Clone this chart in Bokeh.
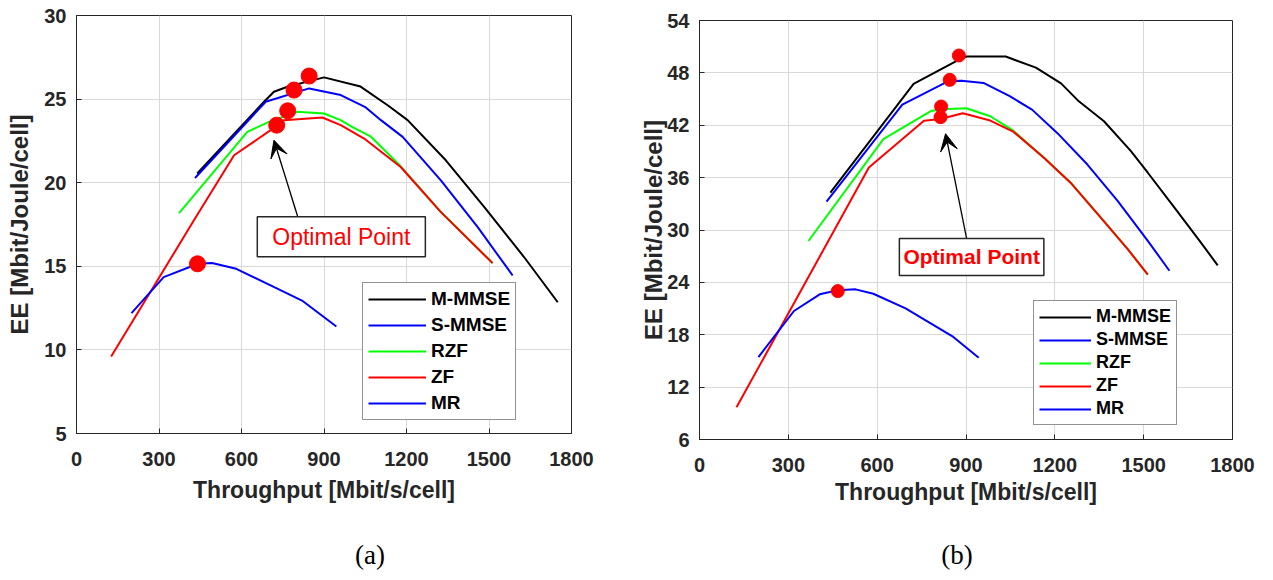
from bokeh.plotting import figure
from bokeh.layouts import row, column
from bokeh.models import (Range1d, FixedTicker, Legend, LegendItem, Label, Arrow,
                          VeeHead, Div)
from bokeh.embed import file_html
from bokeh.resources import INLINE

# ---------------- data ----------------
series_names = ["M-MMSE", "S-MMSE", "RZF", "ZF", "MR"]
series_colors = ["#000000", "#0000FF", "#00FF00", "#FF0000", "#0000FF"]
x_ticks = [0, 300, 600, 900, 1200, 1500, 1800]

# panel (a)
a_y_ticks = [5, 10, 15, 20, 25, 30]
a_mmmse_x = [439, 682, 718, 767, 900, 1033, 1134, 1204, 1343, 1483, 1628, 1750]
a_mmmse_y = [20.55, 24.84, 25.44, 25.74, 26.3, 25.75, 24.6, 23.74, 21.34, 18.54, 15.54, 12.85]
a_smmse_x = [431, 688, 846, 961, 1052, 1107, 1186, 1325, 1459, 1586]
a_smmse_y = [20.28, 24.84, 25.64, 25.24, 24.5, 23.74, 22.74, 20.14, 17.34, 14.45]
a_rzf_x = [373, 621, 700, 803, 900, 961, 1000, 1071, 1179, 1325, 1513]
a_rzf_y = [18.18, 23.04, 23.64, 24.24, 24.14, 23.74, 23.35, 22.75, 20.98, 18.26, 15.2]
a_zf_x = [126, 427, 573, 706, 755, 894, 961, 1046, 1179, 1325, 1513]
a_zf_y = [9.6, 17.75, 21.64, 23.14, 23.74, 23.9, 23.44, 22.64, 20.94, 18.24, 15.19]
a_mr_x = [200, 317, 442, 493, 581, 719, 820, 945]
a_mr_y = [12.2, 14.35, 15.15, 15.2, 14.85, 13.75, 12.95, 11.4]
a_opt_x = [846, 791, 768, 728, 440]
a_opt_y = [26.38, 25.54, 24.3, 23.44, 15.15]

# panel (b)
b_y_ticks = [6, 12, 18, 24, 30, 36, 42, 48, 54]
b_mmmse_x = [442, 723, 875, 901, 1034, 1136, 1221, 1281, 1366, 1457, 1514, 1604, 1689, 1750]
b_mmmse_y = [34.28, 46.74, 49.5, 49.87, 49.87, 48.6, 46.8, 44.74, 42.46, 39.03, 36.56, 32.56, 28.76, 25.95]
b_smmse_x = [429, 685, 839, 885, 959, 1046, 1123, 1208, 1310, 1412, 1514, 1587]
b_smmse_y = [33.24, 44.36, 47.03, 47.1, 46.85, 45.36, 43.79, 41.12, 37.5, 33.33, 28.76, 25.33]
b_rzf_x = [368, 621, 784, 839, 901, 982, 1055, 1163, 1253, 1355, 1446, 1514]
b_rzf_y = [28.74, 40.4, 43.67, 43.86, 43.95, 43.03, 41.5, 38.3, 35.45, 31.45, 27.83, 24.9]
b_zf_x = [125, 572, 758, 814, 889, 982, 1061, 1163, 1253, 1355, 1446, 1514]
b_zf_y = [9.7, 37.15, 42.52, 42.71, 43.38, 42.54, 41.24, 38.27, 35.42, 31.42, 27.81, 24.88]
b_mr_x = [199, 319, 406, 467, 527, 587, 696, 768, 853, 943]
b_mr_y = [15.44, 20.72, 22.63, 23.09, 23.2, 22.7, 21.02, 19.57, 17.85, 15.36]
b_opt_x = [876, 845, 816, 814, 467]
b_opt_y = [49.99, 47.2, 44.15, 42.93, 23.0]

annot_text = "Optimal Point"
captions = ["(a)", "(b)"]

FONT = "Liberation Sans"
TXT = "#262626"
TOP, BOTTOM = 15, 87


def panel(cfg):
    p = figure(width=cfg["width"], height=TOP + cfg["fh"] + BOTTOM,
               output_backend="svg", toolbar_location=None,
               x_range=Range1d(0, 1800), y_range=Range1d(cfg["ymin"], cfg["ymax"]),
               min_border_left=cfg["bl"], min_border_right=cfg["br"],
               min_border_top=TOP, min_border_bottom=BOTTOM)
    p.margin = (cfg["mtop"], 0, 0, 0)
    p.outline_line_color = TXT
    p.outline_line_width = 1
    p.background_fill_color = "white"
    p.border_fill_color = "white"
    p.xaxis.ticker = FixedTicker(ticks=x_ticks)
    p.yaxis.ticker = FixedTicker(ticks=cfg["yticks"])
    for ax in (p.xaxis[0], p.yaxis[0]):
        ax.major_tick_in = 5
        ax.major_tick_out = 0
        ax.minor_tick_in = 0
        ax.minor_tick_out = 0
        ax.axis_line_color = TXT
        ax.major_tick_line_color = TXT
        ax.major_label_text_font = FONT
        ax.major_label_text_font_style = "bold"
        ax.major_label_text_font_size = "20px"
        ax.major_label_text_color = TXT
        ax.axis_label_text_font = FONT
        ax.axis_label_text_font_style = "bold"
        ax.axis_label_text_color = TXT
    p.xaxis.axis_label = "Throughput [Mbit/s/cell]"
    p.xaxis.axis_label_text_font_size = "23px"
    p.xaxis.major_label_standoff = cfg["xtstand"]
    p.xaxis.axis_label_standoff = cfg["xlstand"]
    p.yaxis.axis_label = "EE [Mbit/Joule/cell]"
    p.yaxis.axis_label_text_font_size = "24px"
    p.yaxis.major_label_standoff = 10
    p.yaxis.axis_label_standoff = cfg["ylstand"]
    p.grid.grid_line_color = "#d9d9d9"
    p.grid.grid_line_width = 1

    items = []
    for name, col, (xs, ys) in zip(series_names, series_colors, cfg["series"]):
        r = p.line(xs, ys, line_color=col, line_width=2)
        items.append(LegendItem(label=name, renderers=[r]))
    p.scatter(cfg["opt_x"], cfg["opt_y"], size=cfg["dot"], marker="circle",
              fill_color="#FF0000", line_color="#FF0000")

    leg = Legend(items=items, location=cfg["leg_loc"], margin=0, padding=5,
                 spacing=cfg["leg_sp"], glyph_width=cfg["leg_gw"], glyph_height=20,
                 label_height=20, label_standoff=5,
                 label_text_font=FONT, label_text_font_style="bold",
                 label_text_font_size=cfg["leg_fs"], label_text_color="#000000",
                 border_line_color=TXT, border_line_width=1.2,
                 background_fill_color="white", background_fill_alpha=1)
    p.add_layout(leg)

    p.add_layout(Arrow(end=VeeHead(size=17, fill_color="black", line_color="black"),
                       x_start=cfg["arr"][0], y_start=cfg["arr"][1],
                       x_end=cfg["arr"][2], y_end=cfg["arr"][3],
                       line_color="black", line_width=1.3))
    p.add_layout(Label(x=cfg["lab"][0], y=cfg["lab"][1], text=annot_text,
                       text_align="center", text_baseline="middle",
                       text_font=FONT, text_font_size=cfg["lab_fs"],
                       text_font_style=cfg["lab_style"], text_color="#FF0000",
                       background_fill_color="white", border_line_color=TXT,
                       border_line_width=1.5, padding=cfg["lab_pad"]))
    return p


pa = panel(dict(width=630, bl=76, br=59, fh=418, mtop=0, ymin=5, ymax=30, yticks=a_y_ticks,
                ylstand=8, xtstand=18, xlstand=8,
                series=[(a_mmmse_x, a_mmmse_y), (a_smmse_x, a_smmse_y), (a_rzf_x, a_rzf_y),
                        (a_zf_x, a_zf_y), (a_mr_x, a_mr_y)],
                opt_x=a_opt_x, opt_y=a_opt_y, dot=16,
                leg_loc=(286, 13), leg_sp=4, leg_gw=58, leg_fs="19px",
                arr=(804, 17.99, 718, 22.54),
                lab=(963, 16.76), lab_fs="23px", lab_style="normal", lab_pad=(15, 7)))

pb = panel(dict(width=643, bl=69, br=41, fh=419, mtop=5, ymin=6, ymax=54, yticks=b_y_ticks,
                ylstand=-3, xtstand=18, xlstand=4,
                series=[(b_mmmse_x, b_mmmse_y), (b_smmse_x, b_smmse_y), (b_rzf_x, b_rzf_y),
                        (b_zf_x, b_zf_y), (b_mr_x, b_mr_y)],
                opt_x=b_opt_x, opt_y=b_opt_y, dot=13,
                leg_loc=(334, 14), leg_sp=2, leg_gw=52, leg_fs="18px",
                arr=(902, 29.04, 831, 41.03),
                lab=(919, 26.92), lab_fs="21px", lab_style="bold", lab_pad=(4, 7)))

cap_style = {"font-family": "Liberation Serif", "font-size": "27px", "line-height": "30px",
             "text-align": "center", "color": "#000000"}
da = Div(text=captions[0], width=60, height=30, styles=cap_style, margin=(14, 0, 0, 340))
db = Div(text=captions[1], width=60, height=30, styles=cap_style, margin=(14, 0, 0, 527))

layout = column(row(pa, pb), row(da, db))
open("out.html", "w").write(file_html(layout, INLINE))
